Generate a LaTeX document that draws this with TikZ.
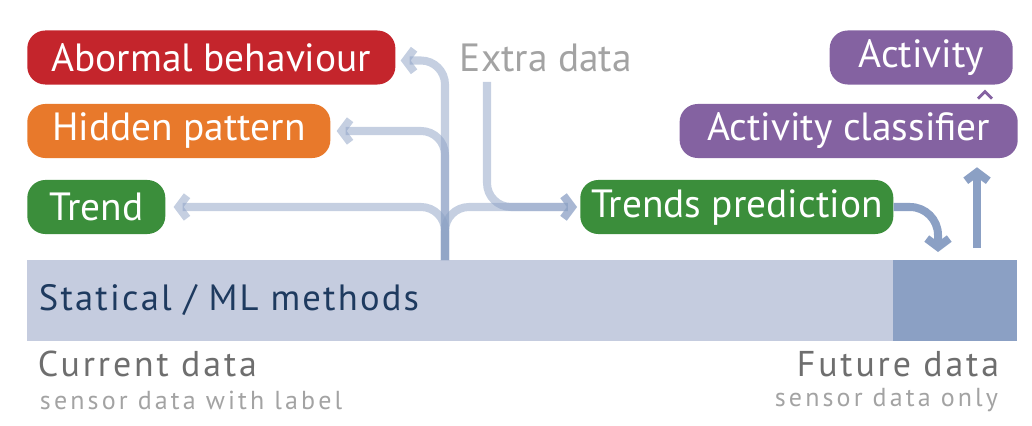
\documentclass[tikz,border=0pt]{standalone}
\usepackage{fontspec}
\setmainfont{PT Sans}
\usepackage{tikz}
\usetikzlibrary{arrows.meta,calc}

\definecolor{abncol}{HTML}{C4252C}
\definecolor{hidcol}{HTML}{E8792B}
\definecolor{trendcol}{HTML}{3B8E3B}
\definecolor{actcol}{HTML}{8462A1}
\definecolor{barlight}{HTML}{C5CCDF}
\definecolor{bardark}{HTML}{8BA0C4}
\definecolor{methcol}{HTML}{1E3A5F}
\definecolor{graytext}{HTML}{6E6E6E}
\definecolor{lighttext}{HTML}{A3A3A3}

\tikzset{
  tag/.style={rounded corners=0.45cm, text=white, minimum height=1.35cm,
    inner xsep=0.2cm, font=\fontsize{28pt}{32pt}\selectfont},
  flow/.style={draw=bardark, opacity=0.5, line width=5.7pt, rounded corners=0.6cm,
    -{Straight Barb[length=6pt,width=16pt]}},
  flowdark/.style={draw=bardark, line width=5.7pt, rounded corners=0.7cm,
    -{Straight Barb[length=6pt,width=16pt]}}
}

\begin{document}
\begin{tikzpicture}[x=0.025cm,y=-0.025cm]
    \useasboundingbox (0,0) rectangle (1032,426);
    % data bar
    \node[fill=barlight, minimum width=21.65cm, minimum height=2.025cm, anchor=north west, inner sep=0] (cur) at (27,260) {};
    \node[fill=bardark, minimum width=3.1cm, minimum height=2.025cm, anchor=north west, inner sep=0] (fut) at (893,260) {};
    \node[anchor=west, text=methcol, font=\fontsize{26pt}{29pt}\selectfont\addfontfeature{LetterSpace=6}] (meth) at (34,300) {Statical / ML methods};
    \node[anchor=west, text=graytext, font=\fontsize{25.5pt}{28pt}\selectfont\addfontfeature{LetterSpace=8}] (curlab) at (33,364) {Current data};
    \node[anchor=west, text=lighttext, font=\fontsize{18.5pt}{21pt}\selectfont\addfontfeature{LetterSpace=12}] (cursub) at (35,400) {sensor data with label};
    \node[anchor=east, text=graytext, font=\fontsize{25.5pt}{28pt}\selectfont\addfontfeature{LetterSpace=8}] (futlab) at (1004,364) {Future data};
    \node[anchor=east, text=lighttext, font=\fontsize{18.5pt}{21pt}\selectfont\addfontfeature{LetterSpace=12}] (futsub) at (1003,400) {sensor data only};
    % outcome boxes
    \node[tag, fill=abncol, anchor=west, minimum width=9.2cm] (abn) at (27,57.5) {Abormal behaviour};
    \node[tag, fill=hidcol, anchor=west, minimum width=7.575cm] (hid) at (27,131) {Hidden pattern};
    \node[tag, fill=trendcol, anchor=west, minimum width=3.45cm] (trend) at (27,207) {Trend};
    \node[tag, fill=trendcol, anchor=west, minimum width=7.825cm] (tp) at (580,207) {Trends prediction};
    \node[tag, fill=actcol, anchor=east, minimum width=8.45cm] (ac) at (1018,131) {Activity classifier};
    \node[tag, fill=actcol, anchor=east, minimum width=4.575cm] (act) at (1013,57.5) {Activity};
    \node[anchor=west, text=lighttext, font=\fontsize{28pt}{32pt}\selectfont] (extra) at (455,58) {Extra data};
    % connectors
    \coordinate (trunk) at (445,260);
    \coordinate (xsrc) at (487,82);
    \coordinate (fin) at (938,252);
    \coordinate (up) at (977,248);
    \draw[flow] (trunk) |- ($(abn.east)+(5,3)$);
    \draw[flow] (trunk) |- ($(hid.east)+(6,0)$);
    \draw[flow] (trunk) |- ($(trend.east)+(8,0)$);
    \draw[flow] (trunk) |- ($(tp.west)+(-3,0)$);
    \draw[flow] (xsrc) |- ($(tp.west)+(-3,0)$);
    \draw[flowdark] (tp.east) -| (fin);
    \draw[flowdark] (up) -- ($(up |- ac.south)+(0,9)$);
    \draw[actcol, line width=2pt] ($(ac.north east)+(-40,-5)$) -- ++(7,-7) -- ++(7,7);
\end{tikzpicture}
\end{document}
